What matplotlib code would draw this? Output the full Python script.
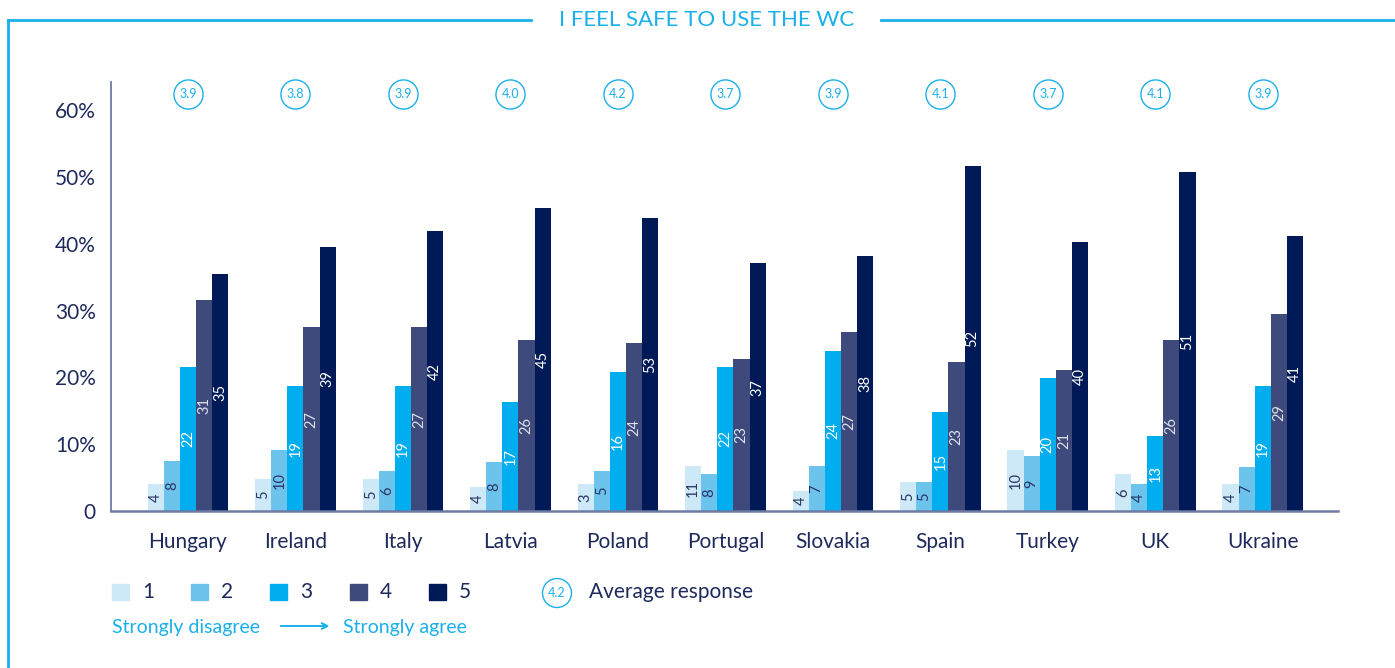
import numpy as np
import matplotlib
matplotlib.use("Agg")
import matplotlib.pyplot as plt
from matplotlib.lines import Line2D
from matplotlib.patches import Rectangle, Ellipse

plt.rcParams['font.family'] = ['Lato', 'DejaVu Sans']
plt.rcParams['font.weight'] = 'normal'

W, H = 1395, 668

countries = ['Hungary', 'Ireland', 'Italy', 'Latvia', 'Poland', 'Portugal',
             'Slovakia', 'Spain', 'Turkey', 'UK', 'Ukraine']

# bar heights as drawn (%)
h1 = [4.0, 4.8, 4.8, 3.6, 4.0, 6.7, 3.0, 4.3, 9.1, 5.5, 4.0]
h2 = [7.5, 9.1, 6.0, 7.3, 6.0, 5.5, 6.7, 4.3, 8.2, 4.0, 6.6]
h3 = [21.6, 18.7, 18.7, 16.3, 20.8, 21.6, 24.0, 14.8, 19.9, 11.2, 18.7]
h4 = [31.6, 27.5, 27.5, 25.6, 25.1, 22.8, 26.8, 22.3, 21.1, 25.6, 29.5]
h5 = [35.5, 39.5, 41.9, 45.4, 43.9, 37.1, 38.2, 51.6, 40.3, 50.7, 41.2]

# printed labels
l1 = [4, 5, 5, 4, 3, 11, 4, 5, 10, 6, 4]
l2 = [8, 10, 6, 8, 5, 8, 7, 5, 9, 4, 7]
l3 = [22, 19, 19, 17, 16, 22, 24, 15, 20, 13, 19]
l4 = [31, 27, 27, 26, 24, 23, 27, 23, 21, 26, 29]
l5 = [35, 39, 42, 45, 53, 37, 38, 52, 40, 51, 41]

avg = [3.9, 3.8, 3.9, 4.0, 4.2, 3.7, 3.9, 4.1, 3.7, 4.1, 3.9]

scale_names = ['1', '2', '3', '4', '5']
colors = ['#cde9f7', '#6cc4ec', '#00aeef', '#3e4a7b', '#001a57']
txt_colors = ['#2b3566', '#2b3566', '#ffffff', '#dde0ea', '#ffffff']
navy = '#1f2a5c'
cyan = '#1ab0ea'
axis_col = '#6e7ba3'


def fx(x):
    return x / W


def fy(y):
    return 1 - y / H


fig = plt.figure(figsize=(W / 100, H / 100), dpi=100)
ax = fig.add_axes([fx(111), fy(511), fx(1338) - fx(111), (511 - 82) / H])

x = np.arange(len(countries))
bw = 0.15
heights = [h1, h2, h3, h4, h5]
labels = [l1, l2, l3, l4, l5]
for k in range(5):
    xs = x + (k - 2) * bw
    ax.bar(xs, heights[k], width=bw, color=colors[k], zorder=3)
    for xi, hv, lv in zip(xs, heights[k], labels[k]):
        ax.text(xi, hv / 2, str(lv), rotation=90, ha='center', va='center',
                fontsize=10.5, color=txt_colors[k], zorder=4)

ax.set_xlim(-0.716, 10.70)
ax.set_ylim(0, 64.2)
ax.set_yticks([0, 10, 20, 30, 40, 50, 60])
ax.set_yticklabels(['0', '10%', '20%', '30%', '40%', '50%', '60%'])
ax.set_xticks(x)
ax.set_xticklabels(countries)
ax.tick_params(axis='both', length=0, labelsize=15, labelcolor=navy)
ax.tick_params(axis='y', pad=11)
ax.tick_params(axis='x', pad=15)
for s in ['top', 'right']:
    ax.spines[s].set_visible(False)
ax.spines['left'].set_color(axis_col)
ax.spines['left'].set_linewidth(1.3)
ax.spines['bottom'].set_color(axis_col)
ax.spines['bottom'].set_linewidth(1.8)
ax.spines['bottom'].set_zorder(5)

# average response circles
for xi, a in zip(x, avg):
    ax.scatter([xi], [62.4], s=440, facecolor='white', edgecolor=cyan,
               linewidth=1.0, clip_on=False, zorder=5)
    ax.text(xi, 62.4, f'{a:.1f}', ha='center', va='center', fontsize=9,
            color=cyan, zorder=6)

# frame and title
lc = '#1ab0ea'
fig.add_artist(Line2D([fx(8), fx(8)], [fy(20), fy(668)], color=lc, lw=2))
fig.add_artist(Line2D([fx(8), fx(531)], [fy(20), fy(20)], color=lc, lw=2))
fig.add_artist(Line2D([fx(881), fx(1395)], [fy(20), fy(20)], color=lc, lw=2))
fig.text(fx(707), fy(20), 'I FEEL SAFE TO USE THE WC', ha='center',
         va='center', fontsize=16, color=cyan)

# legend
sq_x = [112, 191, 270, 350, 429]
for k in range(5):
    fig.add_artist(Rectangle((fx(sq_x[k]), fy(600)), 17 / W, 16 / H,
                             transform=fig.transFigure, color=colors[k]))
    fig.text(fx(sq_x[k] + 30), fy(592), scale_names[k], ha='left',
             va='center', fontsize=15, color=navy)

fig.add_artist(Ellipse((fx(557), fy(593)), 29 / W, 29 / H,
                       transform=fig.transFigure, facecolor='white',
                       edgecolor=cyan, lw=1.0))
fig.text(fx(557), fy(593), '4.2', ha='center', va='center', fontsize=9,
         color=cyan)
fig.text(fx(589), fy(592), 'Average response', ha='left', va='center',
         fontsize=15, color=navy)

fig.text(fx(112), fy(627), 'Strongly disagree', ha='left', va='center',
         fontsize=14, color=cyan)
fig.text(fx(343), fy(627), 'Strongly agree', ha='left', va='center',
         fontsize=14, color=cyan)
fig.add_artist(plt.annotate('', xy=(fx(332), fy(626)), xytext=(fx(278), fy(626)),
                            xycoords='figure fraction',
                            arrowprops=dict(arrowstyle='->', color=cyan, lw=1.2)))

fig.savefig('out.png', dpi=100)
